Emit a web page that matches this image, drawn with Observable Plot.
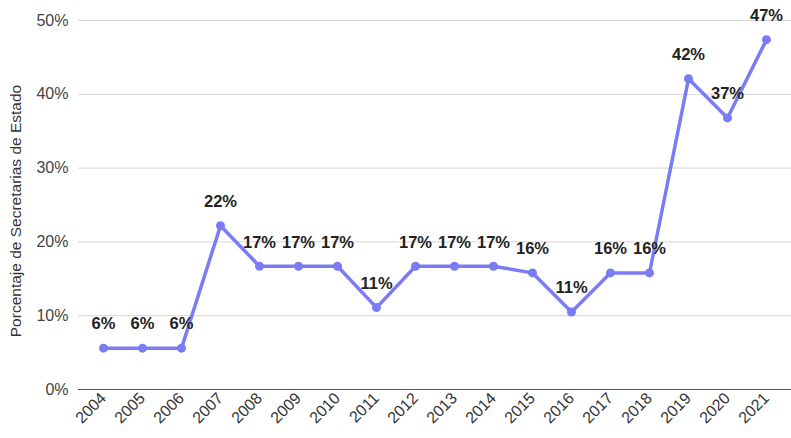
<!DOCTYPE html>
<html>
<head>
<meta charset="utf-8">
<script src="https://cdn.jsdelivr.net/npm/d3@7"></script>
<script src="https://cdn.jsdelivr.net/npm/@observablehq/plot@0.6"></script>
<style>
  html, body { margin: 0; padding: 0; background: #fff; }
  #chart svg { display: block; }
</style>
</head>
<body>
<div id="chart"></div>
<script>
const years = ["2004","2005","2006","2007","2008","2009","2010","2011","2012","2013","2014","2015","2016","2017","2018","2019","2020","2021"];
const values = [5.6,5.6,5.6,22.2,16.7,16.7,16.7,11.1,16.7,16.7,16.7,15.8,10.5,15.8,15.8,42.1,36.8,47.4];
const yTicks = [0,10,20,30,40,50];
const yTitle = "Porcentaje de Secretarias de Estado";

const data = years.map((y, i) => ({year: y, value: values[i]}));
const color = "#7b7bf4";

const chart = Plot.plot({
  width: 791,
  height: 438,
  marginLeft: 78,
  marginRight: 0,
  marginTop: 20,
  marginBottom: 49,
  style: {fontFamily: "'Liberation Sans', Arial, sans-serif", fontSize: "16px", color: "#444"},
  x: {type: "point", domain: years, padding: 0.5},
  y: {domain: [0, 50]},
  marks: [
    Plot.ruleY(yTicks.filter(d => d > 0), {stroke: "#d6d6d6", strokeWidth: 1}),
    Plot.ruleY([0], {stroke: "#555", strokeWidth: 1.2}),
    Plot.axisY({ticks: yTicks, tickSize: 0, tickPadding: 10, tickFormat: d => d + "%",
      label: null, fontSize: 16, fill: "#444"}),
    Plot.text([yTitle], {frameAnchor: "left", text: d => d, rotate: -90, dx: -62, dy: 6,
      textAnchor: "middle", fontSize: 15.5, fill: "#333"}),
    Plot.axisX({tickSize: 0, tickPadding: 6, tickRotate: -45, label: null, fontSize: 16, fill: "#333"}),
    Plot.line(data, {x: "year", y: "value", stroke: color, strokeWidth: 3.5}),
    Plot.dot(data, {x: "year", y: "value", fill: color, r: 4.5}),
    Plot.text(data, {x: "year", y: "value", text: d => Math.round(d.value) + "%", dy: -24,
      fontWeight: "bold", fontSize: 16.5, fill: "#222"})
  ]
});
document.getElementById("chart").appendChild(chart);
</script>
</body>
</html>
